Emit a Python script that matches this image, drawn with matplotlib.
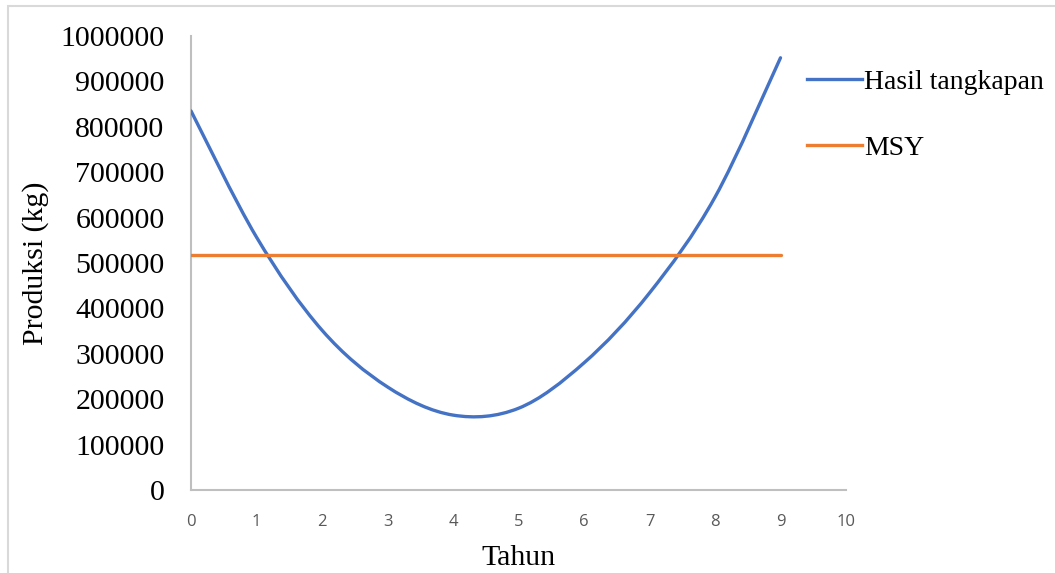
"""Hasil tangkapan vs MSY per tahun."""

import matplotlib

matplotlib.use("Agg")

import matplotlib.pyplot as plt
import numpy as np
from matplotlib.lines import Line2D
from matplotlib.patches import PathPatch, Rectangle
from matplotlib.path import Path

tahun = [0, 1, 2, 3, 4, 5, 6, 7, 8, 9]
hasil_tangkapan = [835000, 557000, 352000, 227000, 165000, 180000, 280000, 434000, 645000, 952000]
msy = [517000] * 10

BLUE = "#4472C4"
ORANGE = "#ED7D31"
SERIF = "Liberation Serif"
FS = 21.5


def smooth_path(xs, ys):
    # Excel-style smoothed line: cubic Bezier segments through every point
    pts = np.column_stack([xs, ys]).astype(float)
    padded = np.vstack([pts[0], pts, pts[-1]])
    verts = [pts[0]]
    codes = [Path.MOVETO]
    for i in range(1, len(padded) - 2):
        p0, p1, p2, p3 = padded[i - 1], padded[i], padded[i + 1], padded[i + 2]
        verts += [p1 + (p2 - p0) / 6, p2 - (p3 - p1) / 6, p2]
        codes += [Path.CURVE4] * 3
    return Path(verts, codes)


fig = plt.figure(figsize=(10.55, 5.73), dpi=100)
fig.patches.append(Rectangle((8 / 1055, -0.1), 1.2, 1.1 - 6 / 573, transform=fig.transFigure,
                             fill=False, edgecolor="#d9d9d9", linewidth=1.5))
ax = fig.add_axes([191 / 1055, 1 - 490 / 573, (846 - 191) / 1055, (490 - 36) / 573])

ax.add_patch(PathPatch(smooth_path(tahun, hasil_tangkapan), fill=False,
                       edgecolor=BLUE, linewidth=2.4, capstyle="round", zorder=3))
ax.plot(tahun, msy, color=ORANGE, linewidth=2.4, solid_capstyle="round", zorder=3)

ax.set_xlim(0, 10)
ax.set_ylim(0, 1000000)
ax.set_xticks(range(0, 11))
ax.set_yticks(range(0, 1000001, 100000))
ax.set_yticklabels([str(v) for v in range(0, 1000001, 100000)], fontfamily=SERIF, fontsize=FS)
ax.tick_params(axis="x", length=0, pad=17, labelsize=12, labelcolor="#595959")
ax.tick_params(axis="y", length=0, pad=19)
for lab in ax.get_xticklabels():
    lab.set_fontfamily("Open Sans")

for side in ("top", "right"):
    ax.spines[side].set_visible(False)
for side in ("left", "bottom"):
    ax.spines[side].set_color("#bfbfbf")
    ax.spines[side].set_linewidth(1.5)

ax.set_xlabel("Tahun", fontfamily=SERIF, fontsize=FS, labelpad=11)
ax.set_ylabel("Produksi (kg)", fontfamily=SERIF, fontsize=FS, labelpad=8)

handles = [Line2D([], [], color=BLUE, linewidth=2.4), Line2D([], [], color=ORANGE, linewidth=2.4)]
fig.legend(handles, ["Hasil tangkapan", "MSY"], loc="upper left",
           bbox_to_anchor=(788 / 1055, 1 - 50 / 573), frameon=False, borderpad=0.2,
           prop={"family": SERIF, "size": 20}, handlelength=1.95, handletextpad=0.08,
           labelspacing=1.47)

fig.savefig("out.png", dpi=100)
